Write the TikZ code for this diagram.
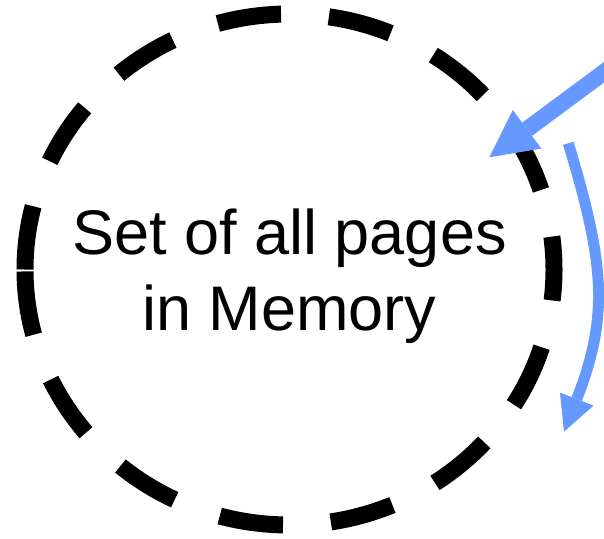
\documentclass[tikz,border=0pt]{standalone}
\usepackage{fontspec}
\setmainfont{Liberation Sans}
\usepackage{xcolor}
\usetikzlibrary{arrows.meta}
\definecolor{ink}{HTML}{000000}
\definecolor{pointer}{HTML}{6699FF}
\tikzset{
  pageset/.style={draw=ink, line width=17pt, dash pattern=on 64pt off 48pt},
  pagetext/.style={align=center, inner sep=0pt, text=ink,
    font=\fontsize{63}{75.6}\selectfont},
  inarrow/.style={-{Triangle[length=47pt, width=48pt, line width=0pt]},
    line width=16.5pt, draw=pointer},
  scanarrow/.style={-{Triangle[length=35pt, width=36pt, line width=0pt]},
    line width=11pt, draw=pointer},
}

\begin{document}
\begin{tikzpicture}[x=1pt, y=-1pt]
  \useasboundingbox (0,0) rectangle (604,538);

  \coordinate (pool) at (289.5,269.5);
  \draw[pageset] (pool) ++(-264.5,0)
    arc[start angle=180, end angle=540, x radius=264.5, y radius=255.5];
  \node[pagetext] (pages) at (289.5,276.5) {Set of all pages\\in Memory};

  \coordinate (feed) at (630,53);
  \coordinate (entry) at (489.3,157.3);
  \draw[inarrow] (feed) -- (entry);

  \coordinate (scanfrom) at (568.3,143.3);
  \coordinate (scanto) at (564,431.7);
  \draw[scanarrow] (scanfrom) .. controls (603.7,261.3) and (610,313.7) .. (scanto);
\end{tikzpicture}
\end{document}
